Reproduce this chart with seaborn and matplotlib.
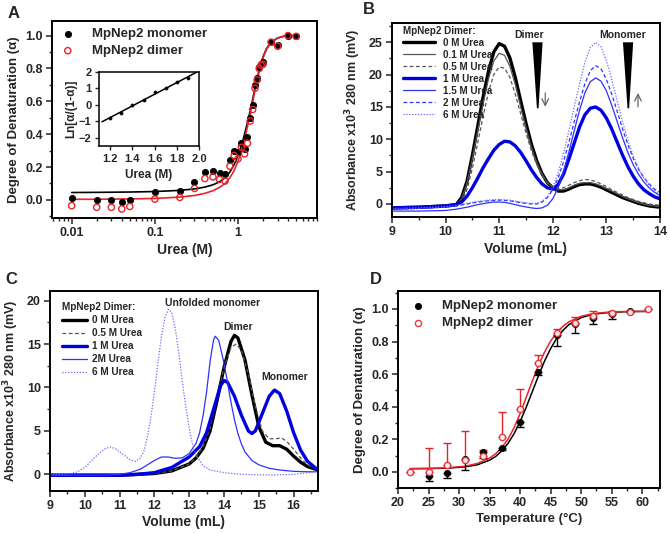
import numpy as np
import matplotlib
matplotlib.use("Agg")
import matplotlib.pyplot as plt
from matplotlib.ticker import MultipleLocator, FixedLocator, FixedFormatter, LogLocator, NullFormatter
import seaborn as sns

sns.set_theme(style="ticks")
plt.rcParams['font.family'] = ['Liberation Sans', 'DejaVu Sans']
plt.rcParams['font.weight'] = 'bold'
plt.rcParams['axes.labelweight'] = 'bold'
plt.rcParams['axes.linewidth'] = 1.4
plt.rcParams['mathtext.default'] = 'bf'

# ---- Panel A: urea denaturation ----
urea_pts = [0.01, 0.02, 0.03, 0.04, 0.05, 0.1, 0.2, 0.3, 0.4, 0.5, 0.6, 0.7, 0.8, 0.9, 1.0,
            1.1, 1.2, 1.3, 1.4, 1.5, 1.6, 1.7, 1.8, 1.9, 2.0, 2.5, 3.0, 4.0, 5.0]
mono_a = [0.01, 0.0, 0.0, -0.01, 0.0, 0.05, 0.055, 0.11, 0.17, 0.175, 0.165, 0.155, 0.24, 0.30, 0.29,
          0.345, 0.31, 0.38, 0.50, 0.58, 0.70, 0.74, 0.81, 0.83, 0.84, 0.96, 0.945, 1.0, 0.995]
dimer_a = [-0.035, -0.045, -0.045, -0.055, -0.04, 0.005, 0.015, 0.07, 0.13, 0.14, 0.125, 0.115, 0.205, 0.27, 0.25,
           0.32, 0.28, 0.345, 0.48, 0.55, 0.68, 0.73, 0.80, 0.82, 0.825, 0.96, 0.935, 1.0, 0.995]
urea_fit = [0.01, 0.02, 0.05, 0.1, 0.2, 0.3, 0.4, 0.5, 0.6, 0.7, 0.8, 0.9, 1.0, 1.1, 1.2, 1.3, 1.4,
            1.5, 1.6, 1.7, 1.8, 2.0, 2.2, 2.5, 3.0, 3.5, 4.0, 5.0]
mono_a_fit = [0.045, 0.046, 0.048, 0.051, 0.058, 0.067, 0.078, 0.092, 0.11, 0.135, 0.17, 0.215, 0.27, 0.33,
              0.40, 0.47, 0.54, 0.61, 0.68, 0.74, 0.79, 0.87, 0.92, 0.96, 0.985, 0.995, 1.0, 1.0]
dimer_a_fit = [0.004, 0.004, 0.006, 0.009, 0.017, 0.027, 0.04, 0.056, 0.076, 0.10, 0.135, 0.18, 0.235, 0.30,
               0.37, 0.445, 0.52, 0.595, 0.665, 0.73, 0.78, 0.865, 0.915, 0.96, 0.985, 0.995, 1.0, 1.0]
# inset
urea_in = [1.2, 1.3, 1.4, 1.5, 1.6, 1.7, 1.8, 1.9]
ln_in = [-0.82, -0.47, 0.0, 0.3, 0.78, 1.03, 1.4, 1.65]
urea_in_fit = [1.125, 2.0]
ln_in_fit = [-1.03, 2.06]

# ---- Panel B: SEC, urea series ----
vol_b = [9.0, 9.5] + [round(10.0 + 0.1 * i, 1) for i in range(41)]
b_0m = [-0.6, -0.5,
        -0.3, -0.2, -0.1, 1.0, 3.5, 7.5, 12.0, 16.5, 20.5, 23.5,
        24.8, 24.4, 22.6, 19.6, 16.0, 12.5, 9.3, 6.7, 4.7, 3.3,
        2.5, 2.0, 2.0, 2.3, 2.7, 3.0, 3.1, 3.1, 2.9, 2.6,
        2.2, 1.8, 1.4, 1.0, 0.7, 0.4, 0.1, -0.1, -0.3, -0.4, -0.5]
b_01m = [-0.6, -0.5,
         -0.3, -0.2, -0.1, 0.8, 3.2, 7.0, 11.3, 15.5, 19.3, 22.1,
         23.3, 23.0, 21.3, 18.5, 15.1, 11.8, 8.8, 6.4, 4.6, 3.3,
         2.6, 2.2, 2.2, 2.5, 2.9, 3.2, 3.3, 3.3, 3.1, 2.8,
         2.4, 2.0, 1.6, 1.2, 0.8, 0.5, 0.2, 0.0, -0.2, -0.3, -0.4]
b_05m = [-0.6, -0.5,
         -0.3, -0.2, -0.1, 0.4, 2.2, 5.5, 9.5, 13.5, 17.3, 20.0,
         21.2, 21.0, 19.6, 17.0, 14.0, 11.0, 8.3, 6.1, 4.4, 3.2,
         2.6, 2.4, 2.5, 2.9, 3.3, 3.6, 3.8, 3.7, 3.5, 3.1,
         2.7, 2.2, 1.8, 1.4, 1.0, 0.7, 0.4, 0.2, 0.0, -0.1, -0.2]
b_1m = [-0.6, -0.5,
        -0.3, -0.2, -0.1, 0.3, 1.2, 2.5, 4.0, 5.6, 7.0, 8.3,
        9.2, 9.7, 9.6, 9.0, 8.0, 6.7, 5.3, 4.1, 3.1, 2.5,
        2.3, 3.0, 4.6, 6.9, 9.4, 11.9, 13.8, 14.8, 15.0, 14.5,
        13.3, 11.6, 9.6, 7.6, 5.8, 4.3, 3.1, 2.2, 1.6, 1.1, 0.8]
b_15m = [-1.1, -1.1,
         -1.0, -0.9, -0.8, -0.65, -0.5, -0.3, -0.1, 0.05, 0.2, 0.3,
         0.3, 0.25, 0.1, -0.1, -0.3, -0.45, -0.6, -0.7, -0.6, -0.2,
         0.8, 2.5, 5.0, 8.0, 11.3, 14.5, 17.2, 18.9, 19.5, 19.0,
         17.5, 15.3, 12.8, 10.3, 8.0, 6.1, 4.6, 3.4, 2.5, 1.8, 1.3]
b_2m = [-0.8, -0.7,
        -0.5, -0.4, -0.3, -0.15, 0.0, 0.15, 0.3, 0.4, 0.5, 0.55,
        0.6, 0.55, 0.5, 0.35, 0.2, 0.1, 0.0, 0.0, 0.3, 1.0,
        2.2, 4.0, 6.5, 9.5, 12.7, 15.8, 18.6, 20.6, 21.4, 20.9,
        19.3, 17.0, 14.4, 11.7, 9.2, 7.1, 5.4, 4.1, 3.1, 2.3, 1.8]
b_6m = [-0.7, -0.6,
        -0.4, -0.3, -0.2, -0.05, 0.1, 0.25, 0.4, 0.5, 0.6, 0.65,
        0.7, 0.65, 0.6, 0.45, 0.3, 0.2, 0.1, 0.1, 0.4, 1.2,
        2.6, 4.8, 7.8, 11.3, 15.0, 18.6, 21.9, 24.2, 25.0, 24.3,
        22.2, 19.3, 16.0, 12.8, 9.9, 7.5, 5.5, 4.0, 2.9, 2.1, 1.5]

# ---- Panel C: SEC, second run ----
c_0m_vol = [9.0, 10.0, 11.0, 11.5, 12.0, 12.5, 13.0, 13.2, 13.4, 13.6, 13.8, 14.0, 14.2, 14.3, 14.4,
            14.6, 14.8, 15.0, 15.2, 15.4, 15.6, 15.8, 16.0, 16.2, 16.4, 16.7]
c_0m = [-0.1, -0.1, -0.1, 0.0, 0.1, 0.4, 1.2, 1.9, 3.0, 5.0, 8.5, 12.3, 15.3, 16.0, 15.7,
        13.2, 9.2, 5.5, 3.7, 3.3, 3.3, 2.9, 2.1, 1.4, 0.9, 0.5]
c_05m_vol = [9.0, 11.0, 12.0, 12.5, 13.0, 13.2, 13.4, 13.6, 13.8, 14.0, 14.2, 14.35, 14.5, 14.7, 14.9,
             15.1, 15.3, 15.5, 15.65, 15.8, 16.0, 16.2, 16.4, 16.7]
c_05m = [-0.1, -0.1, 0.1, 0.4, 1.2, 2.0, 3.2, 5.3, 8.8, 12.3, 14.6, 15.0, 14.3, 11.5, 7.8,
         5.0, 4.1, 4.1, 4.2, 3.8, 2.9, 1.9, 1.1, 0.5]
c_1m_vol = [9.0, 11.0, 11.5, 12.0, 12.5, 13.0, 13.3, 13.5, 13.7, 13.9, 14.0, 14.1, 14.3, 14.5, 14.7,
            14.8, 14.9, 15.1, 15.3, 15.45, 15.6, 15.8, 16.0, 16.2, 16.4, 16.7]
c_1m = [-0.1, -0.1, 0.0, 0.2, 0.8, 2.0, 3.2, 4.8, 7.5, 10.2, 10.8, 10.6, 9.0, 6.8, 5.0,
        4.7, 5.0, 7.0, 9.0, 9.7, 9.3, 7.3, 4.8, 2.8, 1.5, 0.5]
c_2m_vol = [9.0, 10.5, 11.0, 11.3, 11.6, 11.8, 12.0, 12.2, 12.4, 12.6, 12.8, 13.0, 13.2, 13.3, 13.4,
            13.5, 13.6, 13.7, 13.75, 13.85, 14.0, 14.1, 14.2, 14.3, 14.4, 14.5, 14.6, 14.8, 15.0,
            15.3, 15.6, 16.0, 16.4, 16.7]
c_2m = [-0.1, -0.1, 0.0, 0.2, 0.6, 1.1, 1.6, 2.0, 2.0, 1.85, 1.9, 2.4, 3.6, 4.8, 6.8,
        9.5, 13.0, 15.5, 15.9, 15.4, 12.8, 10.6, 8.3, 6.3, 4.7, 3.5, 2.6, 1.6, 1.1,
        0.7, 0.5, 0.35, 0.3, 0.3]
c_6m_vol = [9.0, 9.3, 9.6, 9.8, 10.0, 10.2, 10.4, 10.6, 10.75, 10.9, 11.1, 11.3, 11.45, 11.6, 11.7,
            11.8, 11.9, 12.0, 12.1, 12.2, 12.3, 12.4, 12.5, 12.6, 12.7, 12.8, 12.9, 13.0, 13.1,
            13.2, 13.4, 13.6, 14.0, 14.5, 15.0, 15.5, 16.0, 16.4, 16.7]
c_6m = [0.0, 0.0, 0.1, 0.3, 0.8, 1.6, 2.4, 3.0, 3.15, 2.9, 2.3, 1.7, 1.5, 1.9, 2.7,
        4.3, 6.6, 9.5, 12.8, 15.8, 18.0, 19.0, 18.6, 16.8, 14.0, 10.8, 7.8, 5.3, 3.4,
        2.2, 1.0, 0.5, 0.2, 0.0, -0.05, -0.05, 0.0, 0.2, 0.4]

# ---- Panel D: thermal denaturation ----
temp_m = [25, 28, 31, 34, 37, 40, 43, 46, 49, 52, 55, 58]
deg_m = [-0.025, -0.005, 0.08, 0.125, 0.145, 0.305, 0.615, 0.84, 0.905, 0.945, 0.97, 0.99]
err_m = [0.03, 0.03, 0.07, 0.04, 0.01, 0.03, 0.02, 0.07, 0.05, 0.04, 0.03, 0.01]
temp_d = [22, 25, 28, 31, 34, 37, 40, 43, 46, 49, 52, 55, 58, 61]
deg_d = [0.0, 0.0, 0.04, 0.075, 0.1, 0.215, 0.385, 0.67, 0.855, 0.915, 0.955, 0.975, 0.98, 1.0]
err_d = [0.0, 0.145, 0.135, 0.175, 0.035, 0.15, 0.125, 0.05, 0.025, 0.035, 0.03, 0.015, 0.005, 0.0]
temp_fit = [22, 25, 28, 31, 33, 35, 36, 37, 38, 39, 40, 41, 42, 43, 44, 45, 46, 47, 48, 50, 52, 55, 58, 61]
mono_d_fit = [0.020, 0.021, 0.023, 0.031, 0.044, 0.072, 0.095, 0.129, 0.174, 0.234, 0.309, 0.397, 0.493,
              0.589, 0.680, 0.757, 0.820, 0.868, 0.904, 0.947, 0.968, 0.980, 0.984, 0.985]
dimer_d_fit = [0.020, 0.021, 0.025, 0.035, 0.052, 0.085, 0.112, 0.150, 0.200, 0.270, 0.358, 0.458, 0.558,
               0.653, 0.735, 0.803, 0.855, 0.893, 0.921, 0.955, 0.972, 0.982, 0.985, 0.985]

RED = '#e8232a'
BLUE = '#0000e0'

fig = plt.figure(figsize=(6.7, 5.33), dpi=100)
axA = fig.add_axes([0.0776, 0.591, 0.396, 0.370])
axB = fig.add_axes([0.585, 0.593, 0.400, 0.364])
axC = fig.add_axes([0.0746, 0.079, 0.400, 0.375])
axD = fig.add_axes([0.594, 0.084, 0.391, 0.370])


def style_axes(ax, fs=9):
    for s in ax.spines.values():
        s.set_visible(True)
        s.set_color('black')
        s.set_linewidth(1.4)
    ax.tick_params(which='major', direction='out', length=4, width=1.1, labelsize=fs,
                   top=False, right=False, pad=2.5)
    ax.tick_params(which='minor', direction='out', length=2.5, width=1.0, top=False, right=False)
    for lab in ax.get_xticklabels() + ax.get_yticklabels():
        lab.set_fontweight('bold')


def line(ax, x, y, color, lw, ls='-', label=None):
    sns.lineplot(x=x, y=y, ax=ax, color=color, lw=lw, linestyle=ls, label=label,
                 sort=False, estimator=None)


# ---- A ----
axA.set_xscale('log')
line(axA, urea_fit, mono_a_fit, 'black', 1.2)
line(axA, urea_fit, dimer_a_fit, RED, 1.2)
sns.scatterplot(x=urea_pts, y=mono_a, ax=axA, color='black', s=20, edgecolor='black',
                linewidth=0.6, label='MpNep2 monomer', zorder=3)
axA.scatter(urea_pts, dimer_a, s=20, facecolors='none', edgecolors=RED, linewidths=1.0,
            label='MpNep2 dimer', zorder=3)
axA.set_xlim(0.0058, 9)
axA.set_ylim(-0.11, 1.09)
axA.xaxis.set_major_locator(FixedLocator([0.01, 0.1, 1]))
axA.xaxis.set_major_formatter(FixedFormatter(['0.01', '0.1', '1']))
axA.xaxis.set_minor_locator(LogLocator(base=10, subs=np.arange(2, 10), numticks=20))
axA.xaxis.set_minor_formatter(NullFormatter())
axA.yaxis.set_major_locator(MultipleLocator(0.2))
axA.yaxis.set_minor_locator(MultipleLocator(0.1))
axA.yaxis.set_major_formatter(plt.FuncFormatter(lambda v, p: f'{v:.1f}'))
axA.set_xlabel('Urea (M)', fontsize=10, labelpad=3)
axA.set_ylabel('Degree of Denaturation (\u03b1)', fontsize=9.5, labelpad=4)
style_axes(axA)
h, l = axA.get_legend_handles_labels()
axA.legend(h[-2:], l[-2:], loc='upper left', bbox_to_anchor=(-0.025, 1.01), frameon=False,
           prop={'size': 9.5, 'weight': 'bold'}, handletextpad=0.8, labelspacing=0.35,
           borderaxespad=0.3)

axI = fig.add_axes([0.148, 0.726, 0.149, 0.139])
line(axI, urea_in_fit, ln_in_fit, 'black', 1.1)
sns.scatterplot(x=urea_in, y=ln_in, ax=axI, color='black', s=6, edgecolor='black', zorder=3)
axI.set_xlim(1.1, 2.0)
axI.set_ylim(-2.5, 2.0)
axI.xaxis.set_major_locator(MultipleLocator(0.2))
axI.xaxis.set_major_formatter(plt.FuncFormatter(lambda v, p: f'{v:.1f}'))
axI.yaxis.set_major_locator(MultipleLocator(1))
axI.set_xlabel('Urea (M)', fontsize=8.5, labelpad=4)
axI.set_ylabel('Ln[\u03b1/(1-\u03b1)]', fontsize=8.5, labelpad=1)
style_axes(axI, fs=8)
axI.tick_params(which='major', length=3, width=1.0)
for s in axI.spines.values():
    s.set_linewidth(1.1)

# ---- B ----
line(axB, vol_b, b_0m, 'black', 2.4, '-', '0 M Urea')
line(axB, vol_b, b_01m, '#555555', 0.9, '-', '0.1 M Urea')
line(axB, vol_b, b_05m, '#555555', 0.9, (0, (3, 2)), '0.5 M Urea')
line(axB, vol_b, b_1m, BLUE, 2.4, '-', '1 M Urea')
line(axB, vol_b, b_15m, '#3030ff', 0.9, '-', '1.5 M Urea')
line(axB, vol_b, b_2m, '#3030ff', 0.9, (0, (3, 2)), '2 M Urea')
line(axB, vol_b, b_6m, '#6a6aff', 0.9, (0, (1, 1.3)), '6 M Urea')
axB.set_xlim(9, 14)
axB.set_ylim(-2, 28)
axB.xaxis.set_major_locator(MultipleLocator(1))
axB.xaxis.set_minor_locator(MultipleLocator(0.5))
axB.yaxis.set_major_locator(MultipleLocator(5))
axB.yaxis.set_minor_locator(MultipleLocator(2.5))
axB.set_xlabel('Volume (mL)', fontsize=10, labelpad=3)
axB.set_ylabel('Absorbance x10$^3$ 280 nm (mV)', fontsize=9, labelpad=4)
style_axes(axB)
axB.legend(loc='upper left', bbox_to_anchor=(0.02, 1.015), frameon=False, title='MpNep2 Dimer:',
           title_fontproperties={'size': 7.1, 'weight': 'bold'}, alignment='left',
           prop={'size': 7.1, 'weight': 'bold'}, handlelength=3.2, labelspacing=0.2,
           handletextpad=0.8, borderaxespad=0.2)
axB.text(11.55, 26.2, 'Dimer', fontsize=7.5, fontweight='bold', ha='center', va='center')
axB.text(13.3, 26.2, 'Monomer', fontsize=7.5, fontweight='bold', ha='center', va='center')
axB.fill([11.62, 11.81, 11.735, 11.705], [25.0, 25.0, 14.8, 14.8], color='black', lw=0)
axB.fill([13.31, 13.50, 13.425, 13.395], [25.0, 25.0, 14.8, 14.8], color='black', lw=0)
axB.annotate('', xy=(11.86, 14.6), xytext=(11.86, 17.6),
             arrowprops=dict(arrowstyle='->', color='#666666', lw=0.9))
axB.annotate('', xy=(13.59, 17.6), xytext=(13.59, 14.6),
             arrowprops=dict(arrowstyle='->', color='#666666', lw=0.9))

# ---- C ----
line(axC, c_0m_vol, c_0m, 'black', 2.4, '-', '0 M Urea')
line(axC, c_05m_vol, c_05m, '#555555', 0.9, (0, (3, 2)), '0.5 M Urea')
line(axC, c_1m_vol, c_1m, BLUE, 2.4, '-', '1 M Urea')
line(axC, c_2m_vol, c_2m, '#3030ff', 0.9, '-', '2M Urea')
line(axC, c_6m_vol, c_6m, '#6a6aff', 0.9, (0, (1, 1.3)), '6 M Urea')
axC.set_xlim(9, 16.7)
axC.set_ylim(-1.9, 21.1)
axC.xaxis.set_major_locator(MultipleLocator(1))
axC.xaxis.set_minor_locator(MultipleLocator(0.5))
axC.yaxis.set_major_locator(MultipleLocator(5))
axC.yaxis.set_minor_locator(MultipleLocator(2.5))
axC.set_xlabel('Volume (mL)', fontsize=10, labelpad=2)
axC.set_ylabel('Absorbance x10$^3$ 280 nm (mV)', fontsize=9, labelpad=4)
style_axes(axC)
axC.legend(loc='upper left', bbox_to_anchor=(0.02, 0.98), frameon=False, title='MpNep2 Dimer:',
           title_fontproperties={'size': 7.2, 'weight': 'bold'}, alignment='left',
           prop={'size': 7.2, 'weight': 'bold'}, handlelength=2.5, labelspacing=0.3,
           handletextpad=0.5, borderaxespad=0.3)
axC.text(13.68, 19.7, 'Unfolded monomer', fontsize=7.5, fontweight='bold', ha='center', va='center')
axC.text(14.41, 17.0, 'Dimer', fontsize=7.5, fontweight='bold', ha='center', va='center')
axC.text(15.75, 11.2, 'Monomer', fontsize=7.5, fontweight='bold', ha='center', va='center')

# ---- D ----
line(axD, temp_fit, mono_d_fit, 'black', 1.1)
line(axD, temp_fit, dimer_d_fit, RED, 1.1)
axD.errorbar(temp_m, deg_m, yerr=[err_m, [0] * len(err_m)], fmt='none', ecolor='black',
             elinewidth=1.0, capsize=3, capthick=1.0, zorder=2)
axD.errorbar(temp_d, deg_d, yerr=[[0] * len(err_d), err_d], fmt='none', ecolor=RED,
             elinewidth=1.0, capsize=3, capthick=1.0, zorder=2)
sns.scatterplot(x=temp_m, y=deg_m, ax=axD, color='black', s=20, edgecolor='black',
                linewidth=0.6, label='MpNep2 monomer', zorder=3)
axD.scatter(temp_d, deg_d, s=20, facecolors='white', edgecolors=RED, linewidths=1.0,
            label='MpNep2 dimer', zorder=4, alpha=0.9)
axD.set_xlim(20, 62.9)
axD.set_ylim(-0.1, 1.11)
axD.xaxis.set_major_locator(MultipleLocator(5))
axD.xaxis.set_minor_locator(MultipleLocator(2.5))
axD.yaxis.set_major_locator(MultipleLocator(0.2))
axD.yaxis.set_minor_locator(MultipleLocator(0.1))
axD.yaxis.set_major_formatter(plt.FuncFormatter(lambda v, p: f'{v:.1f}'))
axD.set_xlabel('Temperature (\u00b0C)', fontsize=9.5, labelpad=3)
axD.set_ylabel('Degree of Denaturation (\u03b1)', fontsize=9.5, labelpad=4)
style_axes(axD)
h, l = axD.get_legend_handles_labels()
axD.legend(h[-2:], l[-2:], loc='upper left', bbox_to_anchor=(-0.01, 1.0), frameon=False,
           prop={'size': 9.5, 'weight': 'bold'}, handletextpad=0.8, labelspacing=0.35,
           borderaxespad=0.3)

for txt, x, y in [('A', 0.012, 0.975), ('B', 0.541, 0.983), ('C', 0.008, 0.475), ('D', 0.552, 0.475)]:
    fig.text(x, y, txt, fontsize=12, fontweight='bold', ha='left', va='center')

fig.savefig('out.png', dpi=100)
